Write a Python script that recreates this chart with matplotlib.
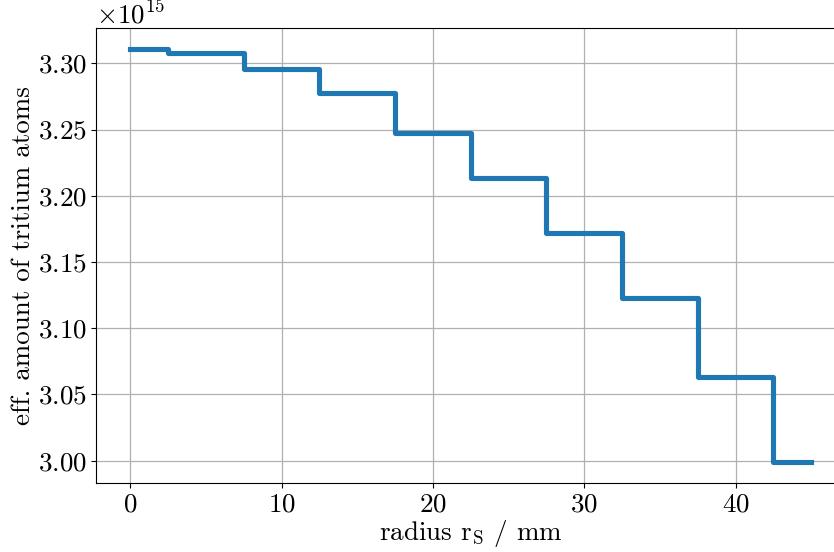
import matplotlib
matplotlib.use("Agg")
import matplotlib.pyplot as plt
import numpy as np

plt.rcParams['font.family'] = ['cmr10', 'DejaVu Serif']
plt.rcParams['mathtext.fontset'] = 'cm'
plt.rcParams['axes.formatter.use_mathtext'] = True

# bin edges of the source radius and the effective tritium amount per bin
radius_edges = [0, 2.5, 7.5, 12.5, 17.5, 22.5, 27.5, 32.5, 37.5, 42.5, 45]
tritium = [3.311, 3.3075, 3.296, 3.2776, 3.2474, 3.2133, 3.1717, 3.1228, 3.0632, 2.9988]
scale = 1e15

fig = plt.figure(figsize=(8.34, 5.52), dpi=100)
ax = fig.add_axes([96.3/834, 69/552, 749/834, 455/552])

y = np.array(tritium + [tritium[-1]]) * scale
ax.step(radius_edges, y, where='post', color='#1f77b4', lw=3.7)

ax.set_xlim(-2.25, 47.25)
ax.grid(True, color='#b0b0b0', lw=0.9)
ax.set_axisbelow(True)
ax.tick_params(labelsize=19.5)
ax.yaxis.get_offset_text().set_fontsize(19.5)
ax.set_xlabel(r'radius r$_\mathrm{S}$ / mm', fontsize=19.5, labelpad=1)
ax.set_ylabel('eff. amount of tritium atoms', fontsize=19.5, labelpad=2)

fig.savefig('out.png', dpi=100)
